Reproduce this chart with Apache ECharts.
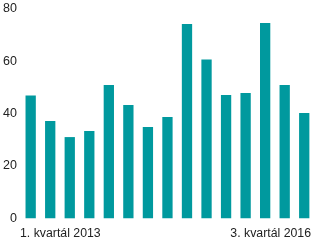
<!DOCTYPE html>
<html><head><meta charset="utf-8">
<script src="https://cdn.jsdelivr.net/npm/echarts@6/dist/echarts.min.js"></script>
<style>html,body{margin:0;padding:0;background:#fff}#c{width:314px;height:241px}</style>
</head><body><div id="c"></div>
<script>
const categories = ['1. kvartál 2013','2. kvartál 2013','3. kvartál 2013','4. kvartál 2013',
  '1. kvartál 2014','2. kvartál 2014','3. kvartál 2014','4. kvartál 2014',
  '1. kvartál 2015','2. kvartál 2015','3. kvartál 2015','4. kvartál 2015',
  '1. kvartál 2016','2. kvartál 2016','3. kvartál 2016'];
const values = [46.9, 37.1, 31.0, 33.3, 50.9, 43.2, 34.8, 38.7, 74.2, 60.6, 47.1, 47.8, 74.5, 50.9, 40.2];
const yTicks = [0, 20, 40, 60, 80];
const shownLabels = ['1. kvartál 2013', '3. kvartál 2016'];

const FONT = 'Liberation Sans';
const chart = echarts.init(document.getElementById('c'), null, {renderer: 'canvas'});
chart.setOption({
  animation: false,
  grid: [
    {left: 17.1, width: 301.5, top: 8.7, height: 209.6, containLabel: false},
    {left: 20, right: 2.3, top: 8.7, height: 209.6, containLabel: false}
  ],
  xAxis: [
    {type: 'category', gridIndex: 0, data: categories,
     axisLine: {show: false}, axisTick: {show: false}, axisLabel: {show: false}, splitLine: {show: false}},
    {type: 'category', gridIndex: 1, data: shownLabels, boundaryGap: false,
     axisLine: {show: false}, axisTick: {show: false}, splitLine: {show: false},
     axisLabel: {show: true, interval: 0, margin: 9, color: '#222', fontFamily: FONT, fontSize: 12.3,
       alignMinLabel: 'left', alignMaxLabel: 'right'}}
  ],
  yAxis: [
    {type: 'value', gridIndex: 0, min: yTicks[0], max: yTicks[yTicks.length-1], interval: 20,
     axisLine: {show: false}, axisTick: {show: false}, splitLine: {show: false},
     axisLabel: {margin: 4, color: '#222', fontFamily: FONT, fontSize: 12.5}},
    {type: 'value', gridIndex: 1, show: false, min: 0, max: 80}
  ],
  series: [{
    type: 'bar', xAxisIndex: 0, yAxisIndex: 0, data: values, barWidth: 10.3,
    itemStyle: {color: '#00999e'}
  }]
});
</script></body></html>
